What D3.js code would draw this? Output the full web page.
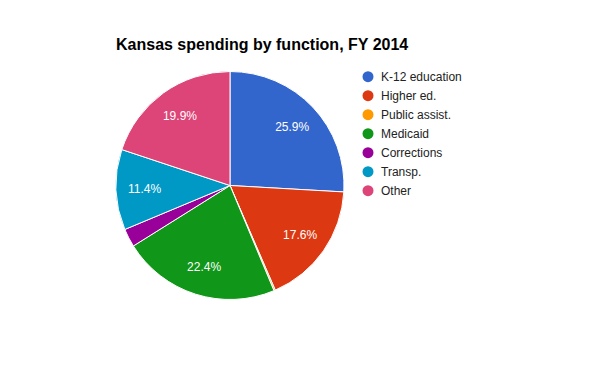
<!DOCTYPE html>
<html><head><meta charset="utf-8">
<script src="https://cdn.jsdelivr.net/npm/d3@7"></script>
<style>body{margin:0;background:#fff}svg{display:block}</style>
</head><body>
<script>
const categories = ["K-12 education","Higher ed.","Public assist.","Medicaid","Corrections","Transp.","Other"];
const values = [25.9, 17.6, 0.2, 22.4, 2.6, 11.4, 19.9];
const colors = ["#3366cc","#dc3912","#ff9900","#109618","#990099","#0099c6","#dd4477"];
const title = "Kansas spending by function, FY 2014";

const W = 600, H = 371;
const cx = 230, cy = 185.5, R = 114;
const svg = d3.select("body").append("svg").attr("width", W).attr("height", H);

svg.append("text").attr("x", 116).attr("y", 50)
  .attr("font-family", "Arial, 'Liberation Sans', sans-serif")
  .attr("font-size", 16).attr("font-weight", "bold").attr("fill", "#000")
  .text(title);

const data = categories.map((c, i) => ({c, v: values[i], col: colors[i]}));
const pie = d3.pie().value(d => d.v).sort(null);
const arc = d3.arc().innerRadius(0).outerRadius(R);
const labelArc = d3.arc().innerRadius(R * 0.75).outerRadius(R * 0.75);
const total = d3.sum(values);

const g = svg.append("g").attr("transform", `translate(${cx},${cy})`);
const arcs = pie(data);
g.selectAll("path").data(arcs).join("path")
  .attr("d", arc).attr("fill", d => d.data.col)
  .attr("stroke", "#fff").attr("stroke-width", 1);

g.selectAll("text").data(arcs.filter(d => d.data.v / total >= 0.05)).join("text")
  .attr("transform", d => `translate(${labelArc.centroid(d)})`)
  .attr("text-anchor", "middle").attr("dy", "0.36em")
  .attr("font-family", "Arial, 'Liberation Sans', sans-serif")
  .attr("font-size", 12).attr("fill", "#fff")
  .text(d => d3.format(".1f")(d.data.v / total * 100) + "%");

const leg = svg.append("g");
const y = d3.scalePoint().domain(categories).range([76.7, 190.7]);
const item = leg.selectAll("g").data(data).join("g")
  .attr("transform", d => `translate(368,${y(d.c)})`);
item.append("circle").attr("r", 5.5).attr("fill", d => d.col);
item.append("text").attr("x", 13).attr("y", 4.3)
  .attr("font-family", "Arial, 'Liberation Sans', sans-serif")
  .attr("font-size", 12).attr("fill", "#222")
  .text(d => d.c);
</script>
</body></html>
